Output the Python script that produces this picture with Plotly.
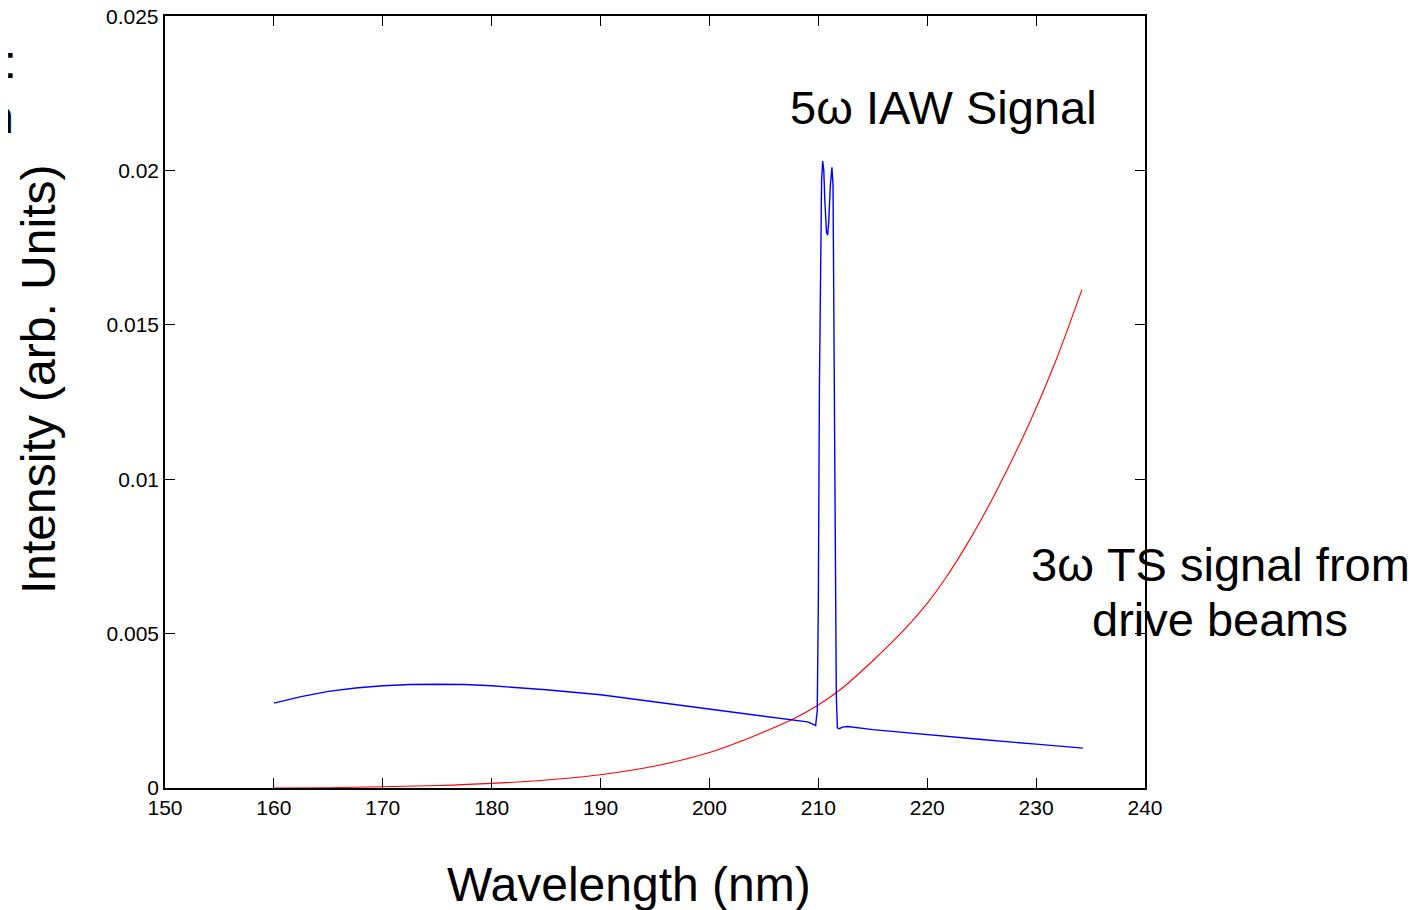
import plotly.graph_objects as go

# Blue: 5ω IAW signal
blue_x = [160.0, 162.5, 165.0, 167.5, 170.0, 172.5, 175.0, 177.5, 180.0, 185.0, 190.0,
          195.0, 200.0, 205.0, 207.5, 209.0, 209.6, 209.75, 209.9, 210.0, 210.1, 210.2,
          210.3, 210.4, 210.5, 210.6, 210.75, 210.85, 210.95, 211.1, 211.25, 211.35,
          211.45, 211.55, 211.65, 211.75, 211.9, 212.3, 212.7, 215.0, 220.0, 225.0,
          230.0, 234.3]
blue_y = [0.00275, 0.00296, 0.00313, 0.00324, 0.00331, 0.00335, 0.00336, 0.00335, 0.00331,
          0.00318, 0.00302, 0.00279, 0.00255, 0.00233, 0.00222, 0.00214, 0.00205, 0.00202,
          0.0025, 0.006, 0.013, 0.018, 0.0197, 0.0203, 0.0200, 0.0190, 0.0180, 0.0179,
          0.0183, 0.0195, 0.0201, 0.0195, 0.015, 0.008, 0.003, 0.00195, 0.00192, 0.00198,
          0.00199, 0.00189, 0.00172, 0.00157, 0.00142, 0.00129]

# Red: 3ω TS signal from drive beams
red_x = [160, 165, 170, 175, 180, 185, 190, 195, 200, 203, 205, 207.5, 210, 212, 215,
         218, 220, 221.6, 224, 226.3, 229.4, 231.8, 234.2]
red_y = [0.0, 0.00001, 0.00004, 0.00008, 0.00015, 0.00026, 0.00043, 0.00071, 0.00115,
         0.00153, 0.00182, 0.00220, 0.00269, 0.00318, 0.00412, 0.00517, 0.00598, 0.00675,
         0.0081, 0.00958, 0.01183, 0.01383, 0.01613]

x_ticks = [150, 160, 170, 180, 190, 200, 210, 220, 230, 240]
y_ticks = [0, 0.005, 0.01, 0.015, 0.02, 0.025]
y_tick_labels = ["0", "0.005", "0.01", "0.015", "0.02", "0.025"]

FONT = "Liberation Sans, Arial, Helvetica, sans-serif"
OFF = 8  # page body margin
W, H = 1426 - OFF, 910 - OFF
L, R, T, B = 165, 1145, 16, 788  # target plot-area pixels in the screenshot


def px(xp):
    return (xp - L) / (R - L)


def py(yp):
    return (B - yp) / (B - T)


fig = go.Figure()
fig.add_trace(go.Scatter(x=red_x, y=red_y, mode="lines",
                         line=dict(color="#ff0000", width=1.1, shape="spline"),
                         showlegend=False))
fig.add_trace(go.Scatter(x=blue_x, y=blue_y, mode="lines",
                         line=dict(color="#0000ff", width=1.4),
                         showlegend=False))

axis_common = dict(showline=True, linecolor="black", linewidth=1.5, mirror="ticks",
                   ticks="inside", ticklen=10, tickcolor="black", tickwidth=1,
                   showgrid=False, zeroline=False, automargin=False,
                   tickfont=dict(family=FONT, size=21, color="black"))

fig.update_xaxes(range=[150, 240], tickvals=x_ticks, ticktext=[str(v) for v in x_ticks], **axis_common)
# the top tick label sits at the very top of the page; draw it as an annotation so it is not hidden
fig.update_yaxes(range=[0, 0.025], tickvals=y_ticks, ticktext=y_tick_labels[:-1] + [""], **axis_common)

anns = [
    dict(text="5ω IAW Signal", x=943, y=108, size=47),
    dict(text="3ω TS signal from", x=1220, y=564, size=47),
    dict(text="drive beams", x=1220, y=619, size=47),
    dict(text="Wavelength (nm)", x=629, y=884, size=48),
]
annotations = []
for a in anns:
    annotations.append(dict(text=a["text"], x=px(a["x"]), y=py(a["y"]), xref="paper", yref="paper",
                            xanchor="center", yanchor="middle", showarrow=False,
                            font=dict(family=FONT, size=a["size"], color="black")))
annotations.append(dict(text=y_tick_labels[-1], x=0, y=y_ticks[-1], xref="paper", yref="y",
                        xanchor="right", yanchor="middle", xshift=-4, showarrow=False,
                        font=dict(family=FONT, size=21, color="black")))
annotations.append(dict(text="Intensity (arb. Units)", x=px(38), y=py(380), xref="paper", yref="paper",
                        xanchor="center", yanchor="middle", showarrow=False, textangle=-90,
                        font=dict(family=FONT, size=48, color="black")))
# Cut-off slide text at the left edge
annotations.append(dict(text="ing:", x=px(19), y=py(62), xref="paper", yref="paper",
                        xanchor="right", yanchor="middle", showarrow=False,
                        font=dict(family=FONT, size=47, color="black")))
annotations.append(dict(text="tion", x=px(16), y=py(116), xref="paper", yref="paper",
                        xanchor="right", yanchor="middle", showarrow=False,
                        font=dict(family=FONT, size=47, color="black")))

fig.update_layout(width=W, height=H,
                  margin=dict(l=L - OFF, r=W + OFF - R, t=T - OFF, b=H + OFF - B),
                  paper_bgcolor="white", plot_bgcolor="white", annotations=annotations)

fig.write_html("out.html")
